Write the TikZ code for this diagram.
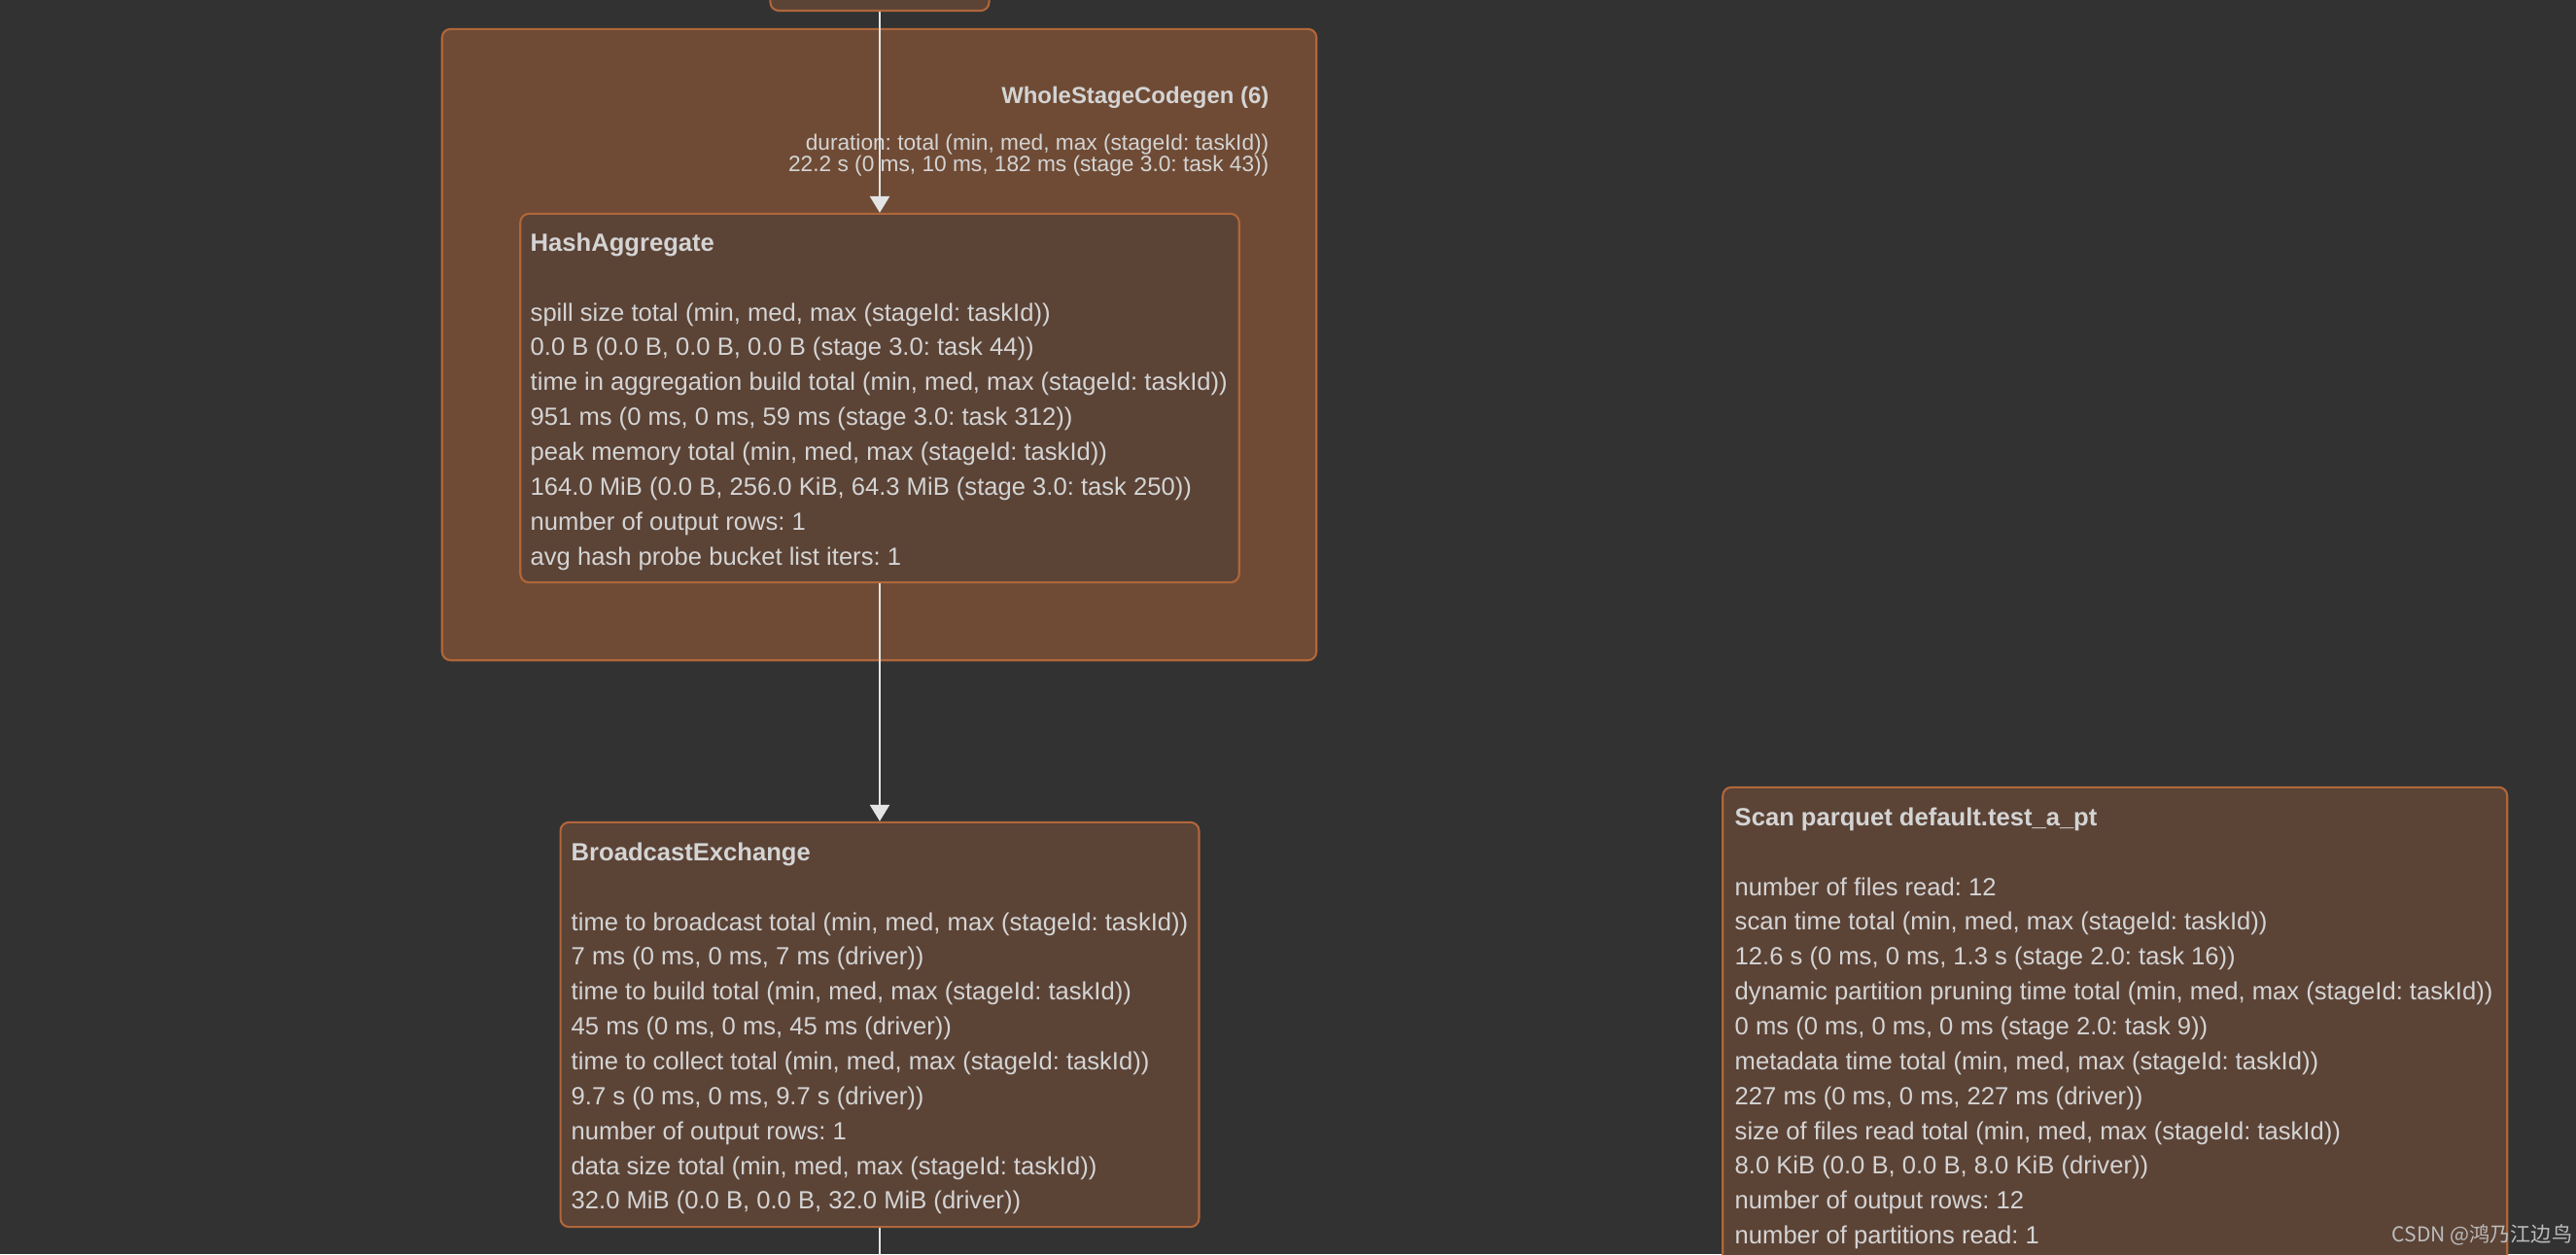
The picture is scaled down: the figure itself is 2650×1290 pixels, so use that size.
\documentclass[tikz,border=0pt]{standalone}
\usepackage{fontspec}
\setmainfont{Liberation Sans}
\newfontfamily\cjkfont{Noto Sans CJK SC}
\frenchspacing
\usetikzlibrary{arrows.meta}
\definecolor{sparkbg}{HTML}{323232}
\definecolor{sparkcluster}{HTML}{6F4B35}
\definecolor{sparknode}{HTML}{5B4336}
\definecolor{sparkedge}{HTML}{B0663A}
\definecolor{sparktext}{HTML}{D4D4D4}
\definecolor{sparklink}{HTML}{E4E4E4}

\begin{document}
\begin{tikzpicture}[x=0.01cm,y=-0.01cm,
      cluster/.style={draw=sparkedge,line width=0.6pt,rounded corners=2.5pt,fill=sparkcluster},
      opbox/.style={draw=sparkedge,line width=0.6pt,rounded corners=2.5pt,fill=sparknode},
      metrics/.style={anchor=north west,inner sep=0pt,align=left,text=sparktext,
                  font=\fontsize{7.28}{10.2}\selectfont},
      clabel/.style={anchor=north east,inner sep=0pt,align=right,text=sparktext,
                  font=\fontsize{6.45}{6.4}\selectfont},
      watermark/.style={anchor=west,inner sep=0pt,text=sparktext!85!sparkbg,font=\cjkfont\fontsize{6}{7}\selectfont},
      link/.style={-{Triangle[width=2mm,length=1.7mm]},line width=0.75pt,sparklink}]
    \fill[sparkbg] (0,0) rectangle (2650,1290);
    \useasboundingbox (0,0) rectangle (2650,1290);

    \node[opbox,minimum width=2.25cm,minimum height=0.6cm] (topop) at (905,-19) {};
    \node[cluster,minimum width=8.99cm,minimum height=6.49cm] (wsc) at (904.5,354.5) {};
    \node[clabel,font=\fontsize{6.8}{6.4}\selectfont\bfseries] (wsctitle) at (1306,88) {WholeStageCodegen (6)};
    \node[clabel] (wscdur) at (1306,137) {duration: total (min, med, max (stageId: taskId))\\22.2 s (0 ms, 10 ms, 182 ms (stage 3.0: task 43))};

    \node[opbox,minimum width=7.39cm,minimum height=3.79cm] (ha) at (905,409.5) {};
    \node[metrics] (hatext) at (545,239) {\textbf{HashAggregate}\\[10.2pt]
      spill size total (min, med, max (stageId: taskId))\\
      0.0 B (0.0 B, 0.0 B, 0.0 B (stage 3.0: task 44))\\
      time in aggregation build total (min, med, max (stageId: taskId))\\
      951 ms (0 ms, 0 ms, 59 ms (stage 3.0: task 312))\\
      peak memory total (min, med, max (stageId: taskId))\\
      164.0 MiB (0.0 B, 256.0 KiB, 64.3 MiB (stage 3.0: task 250))\\
      number of output rows: 1\\
      avg hash probe bucket list iters: 1};

    \node[opbox,minimum width=6.565cm,minimum height=4.16cm] (be) at (905,1054) {};
    \node[metrics] (betext) at (587,866) {\textbf{BroadcastExchange}\\[10.2pt]
      time to broadcast total (min, med, max (stageId: taskId))\\
      7 ms (0 ms, 0 ms, 7 ms (driver))\\
      time to build total (min, med, max (stageId: taskId))\\
      45 ms (0 ms, 0 ms, 45 ms (driver))\\
      time to collect total (min, med, max (stageId: taskId))\\
      9.7 s (0 ms, 0 ms, 9.7 s (driver))\\
      number of output rows: 1\\
      data size total (min, med, max (stageId: taskId))\\
      32.0 MiB (0.0 B, 0.0 B, 32.0 MiB (driver))};

    \node[opbox,minimum width=8.065cm,minimum height=5.3cm] (scan) at (2175.75,1075) {};
    \node[metrics] (scantext) at (1784,830) {\textbf{Scan parquet default.test\_a\_pt}\\[10.2pt]
      number of files read: 12\\
      scan time total (min, med, max (stageId: taskId))\\
      12.6 s (0 ms, 0 ms, 1.3 s (stage 2.0: task 16))\\
      dynamic partition pruning time total (min, med, max (stageId: taskId))\\
      0 ms (0 ms, 0 ms, 0 ms (stage 2.0: task 9))\\
      metadata time total (min, med, max (stageId: taskId))\\
      227 ms (0 ms, 0 ms, 227 ms (driver))\\
      size of files read total (min, med, max (stageId: taskId))\\
      8.0 KiB (0.0 B, 0.0 B, 8.0 KiB (driver))\\
      number of output rows: 12\\
      number of partitions read: 1};

    \coordinate (beout) at (905,1310);
    \draw[link] (topop.south) -- (ha.north);
    \draw[link] (ha.south) -- (be.north);
    \draw[link,-] (be.south) -- (beout);

    \node[watermark] (csdn) at (2460,1270) {CSDN @鸿乃江边鸟};
  \end{tikzpicture}
\end{document}
